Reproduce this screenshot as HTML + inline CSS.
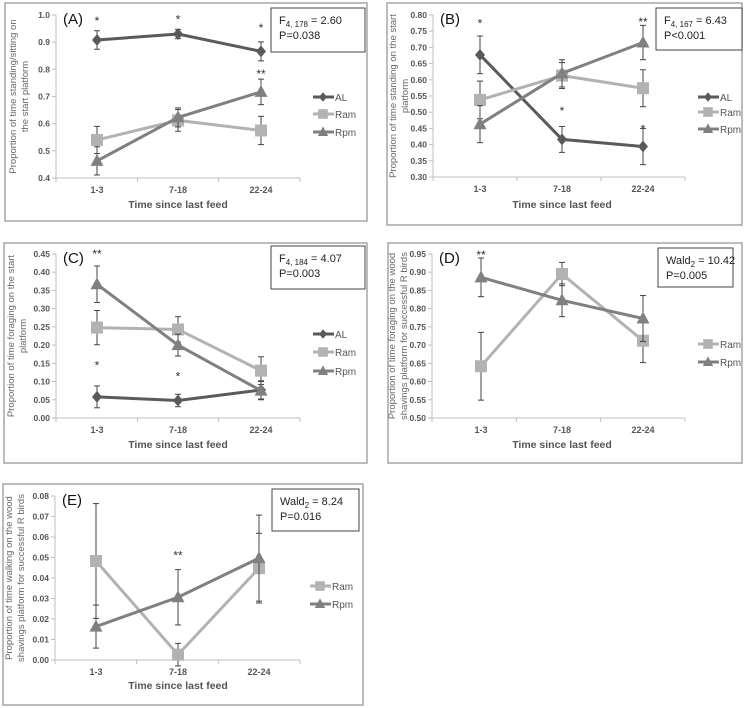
<!DOCTYPE html>
<html><head><meta charset="utf-8"><style>
body{margin:0;background:#fff;width:750px;height:708px;overflow:hidden;font-family:"Liberation Sans",sans-serif}
svg{position:absolute;left:0;top:0}
</style></head><body>
<svg id="fig" width="750" height="708" viewBox="0 0 750 708"></svg>
<script>
const categories=["1-3","7-18","22-24"];
// Panel A
const aAL=[0.908,0.930,0.866], aALe=[0.034,0.017,0.035];
const aRam=[0.540,0.612,0.575], aRame=[0.050,0.040,0.052];
const aRpm=[0.463,0.623,0.717], aRpme=[0.052,0.035,0.047];
const aTicks=["0.4","0.5","0.6","0.7","0.8","0.9","1.0"];
// Panel B
const bAL=[0.677,0.416,0.394], bALe=[0.058,0.040,0.056];
const bRam=[0.538,0.613,0.574], bRame=[0.058,0.040,0.057];
const bRpm=[0.463,0.620,0.715], bRpme=[0.057,0.042,0.053];
const bTicks=["0.30","0.35","0.40","0.45","0.50","0.55","0.60","0.65","0.70","0.75","0.80"];
// Panel C
const cAL=[0.058,0.048,0.077], cALe=[0.030,0.017,0.025];
const cRam=[0.248,0.243,0.130], cRame=[0.047,0.035,0.038];
const cRpm=[0.367,0.200,0.075], cRpme=[0.050,0.030,0.025];
const cTicks=["0.00","0.05","0.10","0.15","0.20","0.25","0.30","0.35","0.40","0.45"];
// Panel D
const dRam=[0.642,0.895,0.712], dRame=[0.093,0.032,0.060];
const dRpm=[0.886,0.823,0.773], dRpme=[0.053,0.045,0.063];
const dTicks=["0.50","0.55","0.60","0.65","0.70","0.75","0.80","0.85","0.90","0.95"];
// Panel E
const eRam=[0.0483,0.0026,0.0448], eRame=[0.028,0.0055,0.017];
const eRpm=[0.0163,0.0306,0.0497], eRpme=[0.0105,0.0135,0.021];
const eTicks=["0.00","0.01","0.02","0.03","0.04","0.05","0.06","0.07","0.08"];

const NS="http://www.w3.org/2000/svg";
const svg=document.getElementById('fig');
const COL={AL:"#5a5a5a",Ram:"#b2b2b2",Rpm:"#808080"};
function mk(tag,attrs,parent,txt){const e=document.createElementNS(NS,tag);for(const k in attrs)e.setAttribute(k,attrs[k]);if(txt!==undefined)e.textContent=txt;(parent||svg).appendChild(e);return e;}

function panel(p){
  const g=mk('g',{});
  
  
  const fr=mk('rect',{x:p.fx,y:p.fy,width:p.fw,height:p.fh,fill:'#fff',stroke:'#a6a6a6','stroke-width':1.5},g);
  
  const t0=parseFloat(p.ticks[0]),t1=parseFloat(p.ticks[p.ticks.length-1]);
  const ys=v=>p.yb+(v-t0)/(t1-t0)*(p.yt-p.yb);
  const xs=i=>p.cx[i];
  const ya=mk('line',{x1:p.ax,x2:p.ax,y1:p.yt,y2:p.yb,stroke:'#bfbfbf'},g);
  
  const xa=mk('line',{x1:p.ax,x2:p.axEnd,y1:p.yb,y2:p.yb,stroke:'#bfbfbf'},g);
  
  p.ticks.forEach(t=>{const y=ys(parseFloat(t));
    mk('line',{x1:p.ax-4,x2:p.ax,y1:y,y2:y,stroke:'#bfbfbf'},g);
    const tl=mk('text',{x:p.ax-6,y:y+3,'text-anchor':'end','font-size':8.5,'font-weight':'bold',fill:'#555'},g,t);
    
  });
  const step=(p.axEnd-p.ax)/3;
  for(let i=0;i<=3;i++){const x=p.ax+step*i;mk('line',{x1:x,x2:x,y1:p.yb,y2:p.yb+4,stroke:'#bfbfbf'},g);}
  categories.forEach((c,i)=>{const tl=mk('text',{x:xs(i),y:p.yb+15,'text-anchor':'middle','font-size':9,'font-weight':'bold',fill:'#555'},g,c);
    });
  const xt=mk('text',{x:p.cx[1],y:p.xty,'text-anchor':'middle','font-size':10.5,'font-weight':'bold',fill:'#555'},g,'Time since last feed');
  
  const yt=mk('text',{transform:`translate(${p.ylx},${(p.yt+p.yb)/2}) rotate(-90)`,'text-anchor':'middle','font-size':9.5,fill:'#666'},g);
  
  p.ylab.forEach((l,i)=>mk('tspan',{x:0,dy:i===0?0:12},yt,l));
  p.series.forEach(s=>{
    const c=COL[s.name];
    const sg=mk('g',{},g);
    
    s.v.forEach((v,i)=>{const x=xs(i);
      mk('line',{x1:x,x2:x,y1:ys(v+s.e[i]),y2:ys(v-s.e[i]),stroke:'#444','stroke-width':1},sg);
      mk('line',{x1:x-3,x2:x+3,y1:ys(v+s.e[i]),y2:ys(v+s.e[i]),stroke:'#444'},sg);
      mk('line',{x1:x-3,x2:x+3,y1:ys(v-s.e[i]),y2:ys(v-s.e[i]),stroke:'#444'},sg);});
    mk('polyline',{points:s.v.map((v,i)=>xs(i)+','+ys(v)).join(' '),fill:'none',stroke:c,'stroke-width':3},sg);
    s.v.forEach((v,i)=>marker(sg,s.name,xs(i),ys(v),c,1));
  });
  p.stars.forEach(st=>{const t=mk('text',{x:xs(st[0]),y:ys(st[1])+6,'text-anchor':'middle','font-size':12,fill:'#333'},g,st[2]);
    });
  const pl=mk('text',{x:p.ax+7,y:p.yt+9,'font-size':15,fill:'#111'},g,'('+p.id+')');
  
  p.series.forEach((s,i)=>{const y=p.legY[i];
    const lg=mk('g',{},g);
    mk('line',{x1:p.legX,x2:p.legX+21,y1:y,y2:y,stroke:COL[s.name],'stroke-width':3},lg);
    marker(lg,s.name,p.legX+10,y,COL[s.name],0.8);
    mk('text',{x:p.legX+22,y:y+4,'font-size':10,fill:'#555'},lg,s.name);});
  const sb=mk('g',{},g);
  mk('rect',{x:p.box[0],y:p.box[1],width:p.box[2],height:p.box[3],fill:'#fff',stroke:'#444'},sb);
  const t1e=mk('text',{x:p.box[0]+8,y:p.box[1]+16,'font-size':11,fill:'#222'},sb);
  mk('tspan',{},t1e,p.stat[0]);mk('tspan',{'font-size':8,dy:3},t1e,p.stat[1]);mk('tspan',{dy:-3},t1e,p.stat[2]);
  mk('text',{x:p.box[0]+8,y:p.box[1]+31,'font-size':11,fill:'#222'},sb,p.stat[3]);
}
function marker(g,n,x,y,c,s){
  if(n==='AL')mk('polygon',{points:`${x},${y-6*s} ${x+5*s},${y} ${x},${y+6*s} ${x-5*s},${y}`,fill:c},g);
  else if(n==='Ram')mk('rect',{x:x-6*s,y:y-6*s,width:12*s,height:12*s,fill:c},g);
  else mk('polygon',{points:`${x},${y-7*s} ${x+6.5*s},${y+5*s} ${x-6.5*s},${y+5*s}`,fill:c},g);
}
panel({id:'A',fx:5,fy:3,fw:362,fh:218,ax:56,axEnd:300,yt:15,yb:178,cx:[97,178,261],ticks:aTicks,xty:208,ylx:16,
 ylab:['Proportion of time standing/sitting on','the start platform'],
 series:[{name:'AL',v:aAL,e:aALe},{name:'Ram',v:aRam,e:aRame},{name:'Rpm',v:aRpm,e:aRpme}],
 stars:[[0,0.985,'*'],[1,0.99,'*'],[2,0.96,'*'],[2,0.79,'**']],legX:313,legY:[97,114,132],box:[271,8,94,44],stat:['F','4, 178',' = 2.60','P=0.038']});
panel({id:'B',fx:387,fy:3,fw:355,fh:222,ax:433,axEnd:685,yt:15,yb:177,cx:[480,562,643],ticks:bTicks,xty:208,ylx:396,
 ylab:['Proportion of time standing on the start','platform'],
 series:[{name:'AL',v:bAL,e:bALe},{name:'Ram',v:bRam,e:bRame},{name:'Rpm',v:bRpm,e:bRpme}],
 stars:[[0,0.78,'*'],[1,0.51,'*'],[2,0.455,'*'],[2,0.785,'**']],legX:698,legY:[97,112,129],box:[656,8,86,42],stat:['F','4, 167',' = 6.43','P<0.001']});
panel({id:'C',fx:4,fy:243,fw:363,fh:220,ax:56,axEnd:300,yt:254,yb:418,cx:[97,178,261],ticks:cTicks,xty:448,ylx:14,
 ylab:['Proportion of time foraging on the start','platform'],
 series:[{name:'AL',v:cAL,e:cALe},{name:'Ram',v:cRam,e:cRame},{name:'Rpm',v:cRpm,e:cRpme}],
 stars:[[0,0.455,'**'],[0,0.15,'*'],[1,0.12,'*']],legX:313,legY:[334,352,371],box:[271,246,94,43],stat:['F','4, 184',' = 4.07','P=0.003']});
panel({id:'D',fx:388,fy:243,fw:354,fh:220,ax:432,axEnd:685,yt:254,yb:418,cx:[481,562,643],ticks:dTicks,xty:448,ylx:395,
 ylab:['Proportion of time foraging on the wood','shavings platform for successful R birds'],
 series:[{name:'Ram',v:dRam,e:dRame},{name:'Rpm',v:dRpm,e:dRpme}],
 stars:[[0,0.953,'**']],legX:698,legY:[344,362],box:[658,248,75,39],stat:['Wald','2',' = 10.42','P=0.005']});
panel({id:'E',fx:3,fy:484,fw:360,fh:221,ax:55,axEnd:300,yt:496,yb:660,cx:[96,178,259],ticks:eTicks,xty:689,ylx:12,
 ylab:['Proportion of time walking  on the wood','shavings platform for successful R birds'],
 series:[{name:'Ram',v:eRam,e:eRame},{name:'Rpm',v:eRpm,e:eRpme}],
 stars:[[1,0.052,'**']],legX:310,legY:[586,604],box:[272,489,87,42],stat:['Wald','2',' = 8.24','P=0.016']});
</script>
</body></html>
